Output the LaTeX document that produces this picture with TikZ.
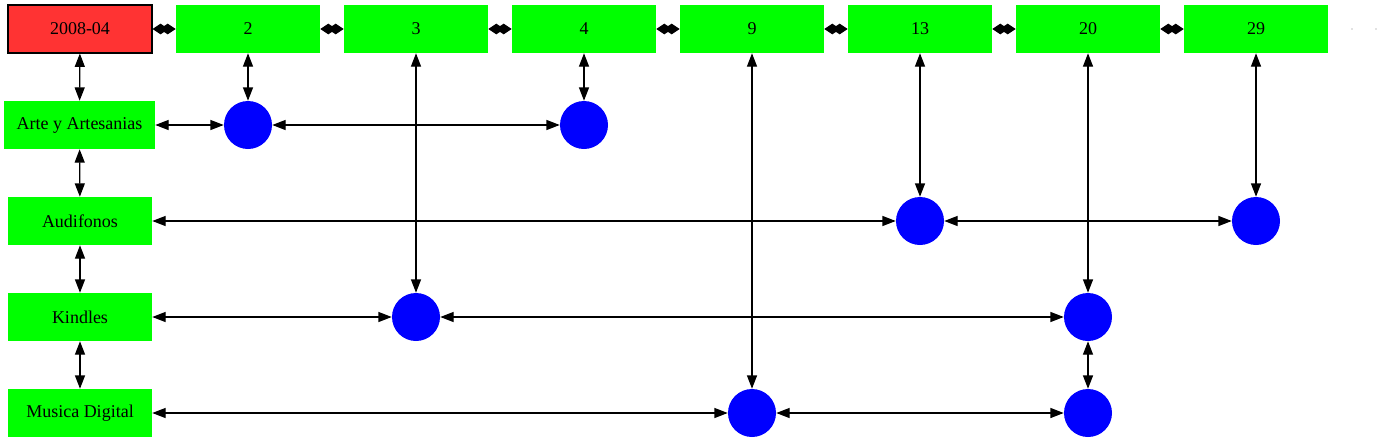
\documentclass[tikz,border=0pt]{standalone}
\usepackage{fontspec}
\setmainfont{Liberation Serif}
\usetikzlibrary{arrows.meta}
\begin{document}
\begin{tikzpicture}[x=0.75pt,y=-0.75pt,
  every node/.style={font=\fontsize{13.5}{16}\selectfont, inner sep=0pt},
  datebox/.style={draw=black, line width=0.8pt, fill={rgb,255:red,255;green,51;blue,51}, minimum width=108pt, minimum height=36pt},
  gbox/.style={fill={rgb,255:red,0;green,255;blue,0}, minimum width=108pt, minimum height=36pt},
  dot/.style={circle, fill={rgb,255:red,0;green,0;blue,255}, minimum size=36pt},
  tiny/.style={circle, fill=gray, minimum size=1pt},
  link/.style={line width=0.9pt, {Triangle[length=10pt,width=7.5pt]}-{Triangle[length=10pt,width=7.5pt]}},
  chain/.style={line width=0.9pt, {Diamond[length=12pt,width=8pt]}-{Diamond[length=12pt,width=8pt]}}
]
\useasboundingbox (0,0) rectangle (1381,443);
% top row
\node[datebox] (t0) at (80,29) {2008-04};
\node[gbox] (t2) at (248,29) {2};
\node[gbox] (t3) at (416,29) {3};
\node[gbox] (t4) at (584,29) {4};
\node[gbox] (t9) at (752,29) {9};
\node[gbox] (t13) at (920,29) {13};
\node[gbox] (t20) at (1088,29) {20};
\node[gbox] (t29) at (1256,29) {29};
\node[tiny] (d1) at (1352,29) {};
\node[tiny] (d2) at (1376,29) {};
% left column
\node[gbox, minimum width=113.25pt] (arte) at (79.5,125) {Arte y Artesanias};
\node[gbox] (aud) at (80,221) {Audifonos};
\node[gbox] (kin) at (80,317) {Kindles};
\node[gbox] (mus) at (80,413) {Musica Digital};
% circles
\node[dot] (a2) at (248,125) {};
\node[dot] (a4) at (584,125) {};
\node[dot] (b13) at (920,221) {};
\node[dot] (b29) at (1256,221) {};
\node[dot] (k3) at (416,317) {};
\node[dot] (k20) at (1088,317) {};
\node[dot] (m9) at (752,413) {};
\node[dot] (m20) at (1088,413) {};
% top chain
\draw[chain] (t0) -- (t2);
\draw[chain] (t2) -- (t3);
\draw[chain] (t3) -- (t4);
\draw[chain] (t4) -- (t9);
\draw[chain] (t9) -- (t13);
\draw[chain] (t13) -- (t20);
\draw[chain] (t20) -- (t29);
% left column links
\draw[link] (t0) -- (arte);
\draw[link] (arte) -- (aud);
\draw[link] (aud) -- (kin);
\draw[link] (kin) -- (mus);
% verticals
\draw[link] (t2) -- (a2);
\draw[link] (t3) -- (k3);
\draw[link] (t4) -- (a4);
\draw[link] (t9) -- (m9);
\draw[link] (t13) -- (b13);
\draw[link] (t20) -- (k20);
\draw[link] (k20) -- (m20);
\draw[link] (t29) -- (b29);
% horizontals
\draw[link] (arte) -- (a2);
\draw[link] (a2) -- (a4);
\draw[link] (aud) -- (b13);
\draw[link] (b13) -- (b29);
\draw[link] (kin) -- (k3);
\draw[link] (k3) -- (k20);
\draw[link] (mus) -- (m9);
\draw[link] (m9) -- (m20);
\end{tikzpicture}
\end{document}
